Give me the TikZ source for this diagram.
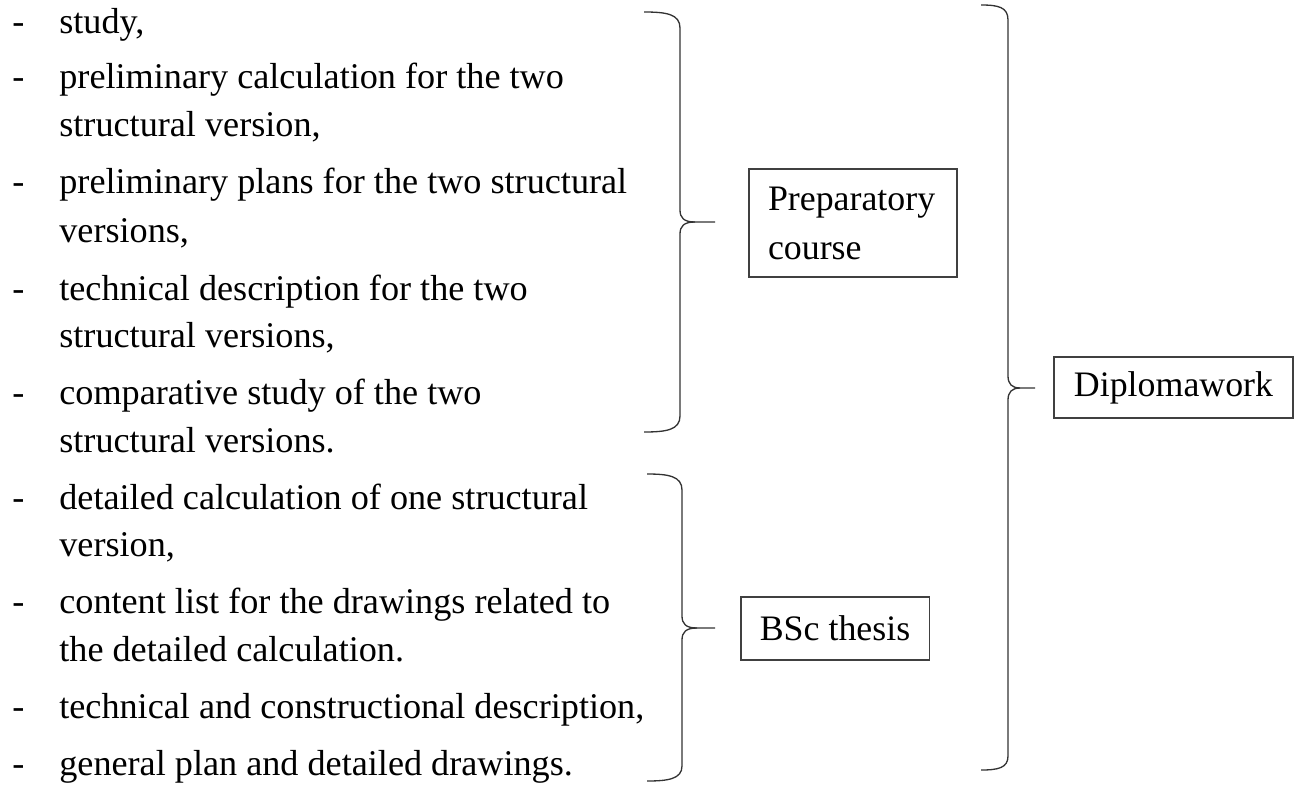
\documentclass[tikz,border=0pt]{standalone}
\usepackage{fontspec}
\setmainfont{Liberation Serif}

\tikzset{
    item/.style={anchor=base west, inner sep=0pt, font=\fontsize{20.6}{27}\selectfont},
    box/.style={draw=black!75, line width=0.75pt, inner xsep=0.38cm, align=left, font=\fontsize{20.4}{27.9}\selectfont},
    brace line/.style={draw=black!80, line width=0.75pt},
}

\begin{document}
\begin{tikzpicture}[x=0.02cm,y=-0.02cm]
    \useasboundingbox (0,0) rectangle (1300,787);

    % list of tasks
    \node[item] (d1) at (12,34) {-};
    \node[item] (l1) at (59,34) {study,};
    \node[item] (d2) at (12,89) {-};
    \node[item] (l2) at (59,89) {preliminary calculation for the two};
    \node[item] (l3) at (59,136.5) {structural version,};
    \node[item] (d3) at (12,194) {-};
    \node[item] (l4) at (59,194) {preliminary plans for the two structural};
    \node[item] (l5) at (59,242) {versions,};
    \node[item] (d4) at (12,300) {-};
    \node[item] (l6) at (59,300) {technical description for the two};
    \node[item] (l7) at (59,347.5) {structural versions,};
    \node[item] (d5) at (12,404.5) {-};
    \node[item] (l8) at (59,404.5) {comparative study of the two};
    \node[item] (l9) at (59,452) {structural versions.};
    \node[item] (d6) at (12,509) {-};
    \node[item] (l10) at (59,509) {detailed calculation of one structural};
    \node[item] (l11) at (59,556.5) {version,};
    \node[item] (d7) at (12,613.5) {-};
    \node[item] (l12) at (59,613.5) {content list for the drawings related to};
    \node[item] (l13) at (59,661) {the detailed calculation.};
    \node[item] (d8) at (12,718) {-};
    \node[item] (l14) at (59,718) {technical and constructional description,};
    \node[item] (d9) at (12,775) {-};
    \node[item] (l15) at (59,775) {general plan and detailed drawings.};

    % boxes
    \node[box, text width=3.4cm, minimum height=2.16cm] (prep) at (853,223) {Preparatory\\course};
    \node[box, minimum width=3.68cm, minimum height=1.26cm] (bsc) at (835,628.5) {BSc thesis};
    \node[box, minimum width=4.78cm, minimum height=1.22cm] (diploma) at (1173.5,387.5) {Diplomawork};

    % brace tips
    \coordinate (prepTip) at (715,222);
    \coordinate (bscTip) at (715,628);
    \coordinate (diplomaTip) at (1035,388);

    % upper brace
    \draw[brace line] (644,12) .. controls (666,12) and (680,14) .. (680,28) -- (680,210)
        .. controls (680,218) and (684,222) .. (695,222) -- (prepTip);
    \draw[brace line] (695,222) .. controls (684,222) and (680,226) .. (680,234) -- (680,416)
        .. controls (680,430) and (666,432) .. (644,432);
    % lower brace
    \draw[brace line] (647,474) .. controls (668,474) and (682,476) .. (682,490) -- (682,616)
        .. controls (682,624) and (686,628) .. (697,628) -- (bscTip);
    \draw[brace line] (697,628) .. controls (686,628) and (682,632) .. (682,640) -- (682,766)
        .. controls (682,779) and (668,781) .. (647,781);
    % main brace
    \draw[brace line] (981,5) .. controls (998,5) and (1008,7) .. (1008,20) -- (1008,376)
        .. controls (1008,384) and (1012,388) .. (1020,388) -- (diplomaTip);
    \draw[brace line] (1020,388) .. controls (1012,388) and (1008,392) .. (1008,400) -- (1008,756)
        .. controls (1008,768) and (998,770) .. (981,770);
\end{tikzpicture}
\end{document}
